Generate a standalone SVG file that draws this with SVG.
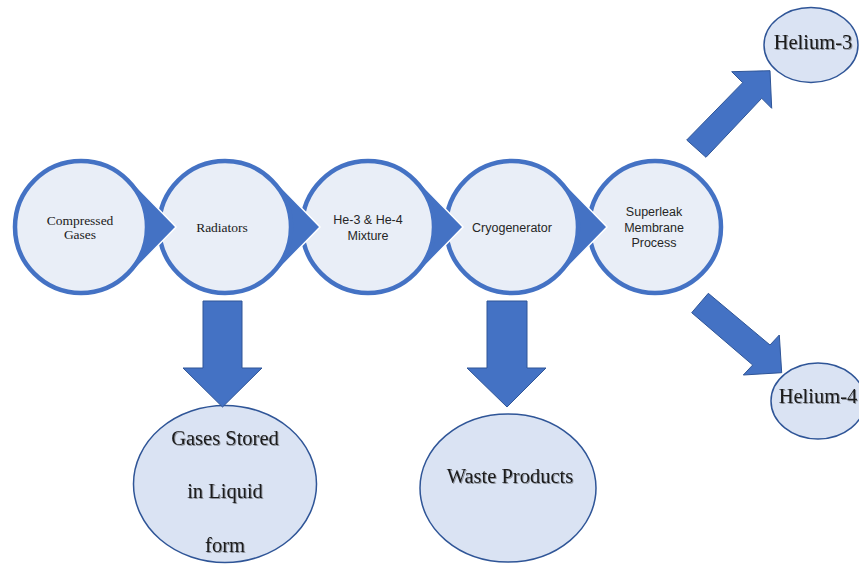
<svg xmlns="http://www.w3.org/2000/svg" width="859" height="564" viewBox="0 0 859 564">
  <defs>
    <style>
      .tail { fill: #4472C4; stroke: #FFFFFF; stroke-width: 1.5; stroke-linejoin: miter; }
      .disc { fill: #E9EEF7; stroke: #4472C4; stroke-width: 4.5; }
      .oval { fill: #DAE3F3; stroke: #2F5597; stroke-width: 1.5; }
      .arrow { fill: #4472C4; stroke: #2F5597; stroke-width: 1; stroke-linejoin: miter; }
      .serif { font-family: "Liberation Serif", "Times New Roman", serif; fill: #1A1A1A; text-anchor: middle; }
      .sans { font-family: "Liberation Sans", Arial, sans-serif; fill: #262626; text-anchor: middle; font-size: 12.5px; }
      .small { font-size: 13.5px; }
      .big { font-size: 20.5px; filter: url(#shadow); }
    </style>
    <filter id="shadow" x="-10%" y="-30%" width="120%" height="160%">
      <feDropShadow dx="1" dy="1" stdDeviation="0.6" flood-color="#000000" flood-opacity="0.35"/>
    </filter>
  </defs>

  <!-- process chain, drawn right to left so each tail sits over the next disc -->
  <g id="superleak">
    <circle class="disc" cx="655" cy="227" r="66"/>
    <text class="sans" x="654" y="216">Superleak</text>
    <text class="sans" x="654" y="232">Membrane</text>
    <text class="sans" x="654" y="247">Process</text>
  </g>

  <g id="cryogenerator">
    <path class="tail" d="M607,227 L560.7,179.5 A68,68 0 1 0 560.7,274.5 Z"/>
    <circle class="disc" cx="512" cy="227" r="66"/>
    <text class="sans" x="512" y="232">Cryogenerator</text>
  </g>

  <g id="mixture">
    <path class="tail" d="M463,227 L416.7,179.5 A68,68 0 1 0 416.7,274.5 Z"/>
    <circle class="disc" cx="368" cy="227" r="66"/>
    <text class="sans" x="368" y="224">He-3 &amp; He-4</text>
    <text class="sans" x="368" y="240">Mixture</text>
  </g>

  <g id="radiators">
    <path class="tail" d="M320,227 L273.7,179.5 A68,68 0 1 0 273.7,274.5 Z"/>
    <circle class="disc" cx="225" cy="227" r="66"/>
    <text class="serif small" x="222" y="232">Radiators</text>
  </g>

  <g id="compressed">
    <path class="tail" d="M176,227 L129.7,179.5 A68,68 0 1 0 129.7,274.5 Z"/>
    <circle class="disc" cx="81" cy="227" r="66"/>
    <text class="serif small" x="80" y="225">Compressed</text>
    <text class="serif small" x="80" y="239">Gases</text>
  </g>

  <!-- outputs -->
  <g id="helium3">
    <ellipse class="oval" cx="811" cy="45" rx="47" ry="37.5"/>
    <text class="serif big" x="813" y="49">Helium-3</text>
  </g>

  <g id="helium4">
    <ellipse class="oval" cx="818" cy="401" rx="47" ry="38"/>
    <text class="serif big" x="818" y="403">Helium-4</text>
  </g>

  <g id="liquid">
    <ellipse class="oval" cx="225" cy="484" rx="91.5" ry="78.5"/>
    <text class="serif big" x="225" y="445">Gases Stored</text>
    <text class="serif big" x="225" y="498">in Liquid</text>
    <text class="serif big" x="225" y="552">form</text>
  </g>

  <g id="waste">
    <ellipse class="oval" cx="508" cy="488" rx="88" ry="74"/>
    <text class="serif big" x="510" y="483">Waste Products</text>
  </g>

  <!-- block arrows -->
  <g id="connectors">
    <polygon class="arrow" points="203,301 242,301 242,368 262,368 222.5,407 183,368 203,368"/>
    <polygon class="arrow" points="487,301 527,301 527,368 546,368 507,407 467,368 487,368"/>
    <polygon class="arrow" points="686.7,140 742.7,82.7 731.7,71.7 770,70.7 771.7,108.3 761.7,98.3 706,157.3"/>
    <polygon class="arrow" points="708.3,293.3 770,345 779.3,335 781.7,372.7 743.3,375 752.7,365 691.7,312.7"/>
  </g>
</svg>
